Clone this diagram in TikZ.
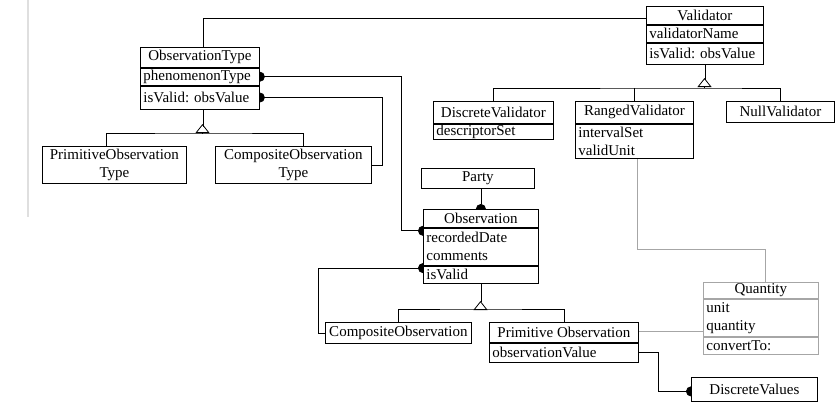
\documentclass[tikz,border=0pt]{standalone}
\usepackage{fontspec}
\setmainfont{Liberation Serif}
\usepackage{tikz}
\usetikzlibrary{arrows.meta,positioning,backgrounds}
\frenchspacing
\tikzstyle{line} = [draw, line width=0.8pt]
\tikzstyle{gline} = [draw, gray!70, line width=0.6pt]
\tikzset{
 hd/.style
  = {rectangle, draw, fill=white, anchor=north west, inner sep=0pt,
     align=center, line width=0.8pt},
 attr/.style
  = {rectangle, draw, fill=white, anchor=north west, inner xsep=3pt,
     inner ysep=0pt, align=left, line width=0.8pt},
 qty/.style
  = {draw=gray!70},
 dotend/.style
  = {line, -{Circle[length=10pt]}},
 dotstart/.style
  = {line, {Circle[length=10pt]}-},
 dotboth/.style
  = {line, {Circle[length=10pt]}-{Circle[length=10pt]}},
 gen/.style
  = {line, -{Triangle[open, length=9pt, width=14pt]}},
}

\begin{document}
\begin{tikzpicture}[x=1pt, y=-1pt,
    font=\fontsize{15}{18}\selectfont]

\useasboundingbox (0,0) rectangle (835,402);

% ObservationType
\node[hd, minimum width=119, minimum height=20] (ot) at (140,47) {ObservationType};
\node[attr, text width=113pt, minimum height=17] (ot1) at (ot.south west) {phenomenonType};
\node[attr, text width=113pt, minimum height=23] (ot2) at (ot1.south west) {isValid: obsValue};
\node[hd, minimum width=144, minimum height=37] (pot) at (42,146) {PrimitiveObservation\\Type};
\node[hd, minimum width=156, minimum height=37] (cot) at (215,146) {CompositeObservation\\Type};

% Validator
\node[hd, minimum width=117, minimum height=18] (v) at (646,6) {Validator};
\node[attr, text width=111pt, minimum height=17] (v1) at (v.south west) {validatorName};
\node[attr, text width=111pt, minimum height=21] (v2) at (v1.south west) {isValid: obsValue};
\node[hd, minimum width=120, minimum height=22] (dv) at (433,101) {DiscreteValidator};
\node[attr, text width=114pt, minimum height=15] (dv1) at (dv.south west) {descriptorSet};
\node[hd, minimum width=118, minimum height=22] (rv) at (575,101) {RangedValidator};
\node[attr, text width=112pt, minimum height=34] (rv1) at (rv.south west) {intervalSet\\validUnit};
\node[hd, minimum width=108, minimum height=21] (nv) at (726,101) {NullValidator};

% Observation
\node[hd, minimum width=113, minimum height=20] (party) at (421,168) {Party};
\node[hd, minimum width=115, minimum height=18] (o) at (423,209) {Observation};
\node[attr, text width=109pt, minimum height=37] (o1) at (o.south west) {recordedDate\\comments};
\node[attr, text width=109pt, minimum height=17] (o2) at (o1.south west) {isValid};
\node[hd, minimum width=146, minimum height=21] (co) at (325,322) {CompositeObservation};
\node[hd, minimum width=149, minimum height=20] (po) at (489,322) {Primitive Observation};
\node[attr, text width=143pt, minimum height=19] (po1) at (po.south west) {observationValue};
\node[hd, minimum width=126, minimum height=24] (dvals) at (691,377) {DiscreteValues};

% Quantity
\node[hd, qty, minimum width=115, minimum height=16] (q) at (703,282) {Quantity};
\node[attr, qty, text width=109pt, minimum height=37] (q1) at (q.south west) {unit\\quantity};
\node[attr, qty, text width=109pt, minimum height=17] (q2) at (q1.south west) {convertTo:};

\begin{scope}[on background layer]
% page edge
\draw[gray!25, line width=1.2pt] (28,0) -- (28,217);

% generalisations
\coordinate (otbar) at (202.5,133);
\draw[line] ([xshift=3pt]ot2.south) -- ++(0,18);
\draw[gen] (otbar) -- ++(0,-9);
\draw[line] ([xshift=-8pt]pot.north) |- (otbar) -| ([xshift=10pt]cot.north);

\coordinate (vbar) at (704.5,88);
\draw[line] (v2.south) -- ++(0,16);
\draw[gen] (vbar) -- ++(0,-10);
\draw[line] (dv.north) |- (vbar) -| (nv.north);
\draw[line] (rv.north) -- (rv.north |- vbar);

\coordinate (obar) at (480.5,309);
\draw[line] (o2.south) -- ++(0,19);
\draw[gen] (obar) -- ++(0,-8);
\draw[line] (co.north) |- (obar) -| (po.north);

% associations
\draw[line] ([xshift=3pt]ot.north) |- ([yshift=-3pt]v.west);
\draw[dotboth] ([xshift=-5pt]ot1.east) -- ++(147,0) |- ([xshift=5pt,yshift=-3pt]o1.north west);
\draw[dotstart] ([xshift=-5pt]ot2.east) -- ++(128,0) |- (cot.east);
\draw[dotend] (party.south -| o.north) -- ([yshift=-5pt]o.north);
\draw[dotstart] ([xshift=5pt,yshift=-2.5pt]o2.north west) -- ++(-110,0) |- (co.west);
\draw[dotend] (po1.east) -- ++(20,0) |- ([xshift=5pt,yshift=-2pt]dvals.west);

% quantity links
\draw[gline] ([xshift=3pt]rv1.south) -- ++(0,91) -| ([xshift=4.5pt]q.north);
\draw[gline] ([yshift=1pt]po.east) -- ([yshift=1pt]po.east -| q1.west);
\end{scope}

\end{tikzpicture}
\end{document}
